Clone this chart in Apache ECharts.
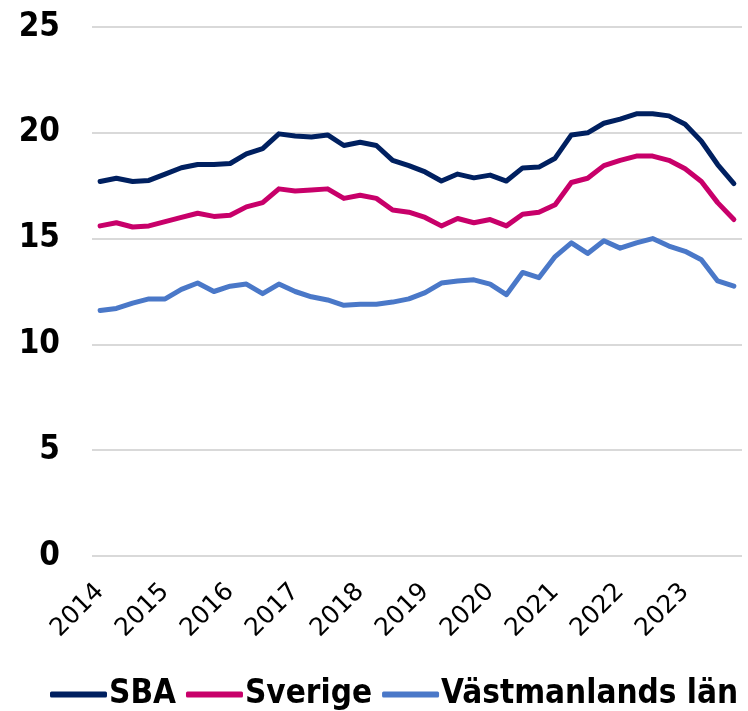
<!DOCTYPE html>
<html>
<head>
<meta charset="utf-8">
<script src="https://cdn.jsdelivr.net/npm/echarts@6/dist/echarts.min.js"></script>
<style>html,body{margin:0;padding:0;background:#fff}#c{width:748px;height:711px}</style>
</head>
<body>
<div id="c"></div>
<script>
const years = [2014,2015,2016,2017,2018,2019,2020,2021,2022,2023];
const quarters = ['K1','K2','K3','K4'];
const categories = [];
years.forEach(y => quarters.forEach(q => categories.push(y + ' ' + q)));

const yTicks = [0, 5, 10, 15, 20, 25];

const sba = [17.7, 17.85, 17.7, 17.75, 18.05, 18.35, 18.5, 18.5, 18.55, 19.0,
  19.25, 19.95, 19.85, 19.8, 19.9, 19.4, 19.55, 19.4, 18.7, 18.45,
  18.15, 17.72, 18.05, 17.87, 18.0, 17.72, 18.34, 18.38, 18.8, 19.9,
  20.0, 20.45, 20.65, 20.9, 20.9, 20.8, 20.4, 19.6, 18.5, 17.6];

const sverige = [15.6, 15.75, 15.55, 15.6, 15.8, 16.0, 16.2, 16.05, 16.1, 16.5,
  16.7, 17.35, 17.25, 17.3, 17.35, 16.9, 17.05, 16.9, 16.35, 16.25,
  16.0, 15.6, 15.95, 15.75, 15.9, 15.6, 16.15, 16.25, 16.6, 17.65,
  17.85, 18.45, 18.7, 18.9, 18.9, 18.7, 18.3, 17.7, 16.7, 15.9];

const vastmanland = [11.6, 11.7, 11.95, 12.15, 12.15, 12.6, 12.9, 12.5, 12.75, 12.85,
  12.4, 12.85, 12.5, 12.25, 12.1, 11.85, 11.9, 11.9, 12.0, 12.15,
  12.45, 12.9, 13.0, 13.05, 12.85, 12.35, 13.4, 13.15, 14.15, 14.8,
  14.3, 14.9, 14.55, 14.8, 15.0, 14.65, 14.4, 14.0, 13.0, 12.75];

const names = ['SBA', 'Sverige', 'Västmanlands län'];
const colors = ['#002060', '#C8006A', '#4A78C8'];

const chart = echarts.init(document.getElementById('c'), null, {renderer: 'canvas'});
const mk = (name, data, color) => ({
  name, type: 'line', data, symbol: 'none', smooth: false,
  lineStyle: {width: 5, color, cap: 'round', join: 'round'},
  itemStyle: {color}
});
chart.setOption({
  animation: false,
  backgroundColor: '#fff',
  grid: {left: 92, right: 6, top: 27, bottom: 155, containLabel: false},
  xAxis: {
    type: 'category', data: categories, boundaryGap: true,
    axisLine: {show: false}, axisTick: {show: false},
    axisLabel: {
      interval: 3, rotate: 45, margin: 32, color: '#000',
      fontFamily: 'DejaVu Sans', fontSize: 25, fontWeight: 'normal',
      formatter: v => v.slice(0, 4)
    }
  },
  yAxis: {
    type: 'value', min: yTicks[0], max: yTicks[yTicks.length - 1], interval: 5,
    axisLine: {show: false}, axisTick: {show: false},
    splitLine: {lineStyle: {color: '#d9d9d9', width: 2}},
    axisLabel: {color: '#000', fontFamily: '"DejaVu Sans Condensed", "DejaVu Sans"', fontWeight: 'bold', fontSize: 33, margin: 32}
  },
  legend: {
    data: names, left: 50, top: 678, width: 740, padding: 0,
    itemWidth: 57, itemHeight: 6, itemGap: 10,
    icon: 'roundRect',
    textStyle: {color: '#000', fontFamily: '"DejaVu Sans Condensed", "DejaVu Sans"', fontWeight: 'bold', fontSize: 33, padding: [0, 0, 0, -3]}
  },
  series: [
    mk(names[0], sba, colors[0]),
    mk(names[1], sverige, colors[1]),
    mk(names[2], vastmanland, colors[2])
  ]
});
</script>
</body>
</html>
